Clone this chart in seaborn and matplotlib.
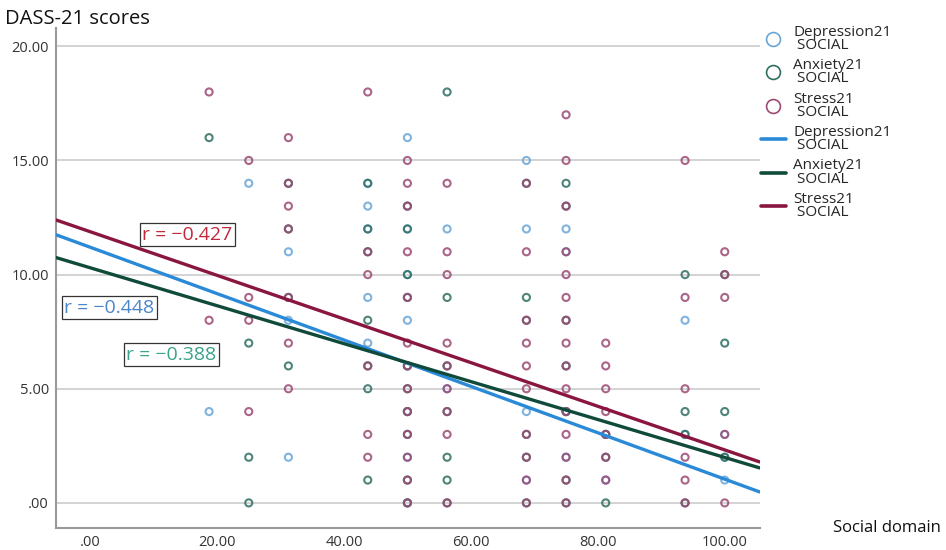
import numpy as np
import pandas as pd
import matplotlib
matplotlib.use("Agg")
import matplotlib.pyplot as plt
from matplotlib.lines import Line2D
import seaborn as sns

# scatter points (Social domain, DASS-21 score)
dep_x = [18.75, 25, 31.25, 31.25, 31.25, 43.75, 43.75, 43.75, 43.75, 43.75,
         50, 50, 50, 50, 50, 50, 50, 50, 56.25, 56.25,
         68.75, 68.75, 68.75, 68.75, 75, 75, 75, 75, 81.25, 81.25,
         93.75, 93.75, 100, 100, 100]
dep_y = [4, 14, 11, 8, 2, 14, 13, 9, 7, 12,
         16, 12, 10, 8, 6, 4, 2, 0, 12, 5,
         15, 12, 4, 1, 12, 11, 4, 2, 3, 1,
         8, 3, 3, 2, 1]

anx_x = [18.75, 25, 25, 25, 31.25, 31.25, 31.25, 31.25,
         43.75, 43.75, 43.75, 43.75, 43.75, 43.75, 43.75,
         50, 50, 50, 50, 50, 50, 50, 50, 50, 50,
         56.25, 56.25, 56.25, 56.25, 56.25, 56.25, 56.25,
         68.75, 68.75, 68.75, 68.75, 68.75, 68.75,
         75, 75, 75, 75, 75, 75, 75,
         81.25, 81.25, 81.25, 93.75, 93.75, 93.75, 93.75,
         100, 100, 100, 100]
anx_y = [16, 7, 2, 0, 14, 12, 9, 6,
         14, 12, 11, 8, 6, 5, 1,
         13, 12, 10, 9, 6, 5, 4, 3, 1, 0,
         18, 9, 6, 4, 2, 1, 0,
         14, 9, 8, 3, 2, 0,
         14, 13, 8, 6, 4, 1, 0,
         3, 2, 0, 10, 4, 3, 0,
         10, 7, 4, 2]

str_x = [18.75, 18.75, 25, 25, 25, 25,
         31.25, 31.25, 31.25, 31.25, 31.25, 31.25, 31.25,
         43.75, 43.75, 43.75, 43.75, 43.75, 43.75,
         50, 50, 50, 50, 50, 50, 50, 50, 50, 50, 50, 50, 50,
         56.25, 56.25, 56.25, 56.25, 56.25, 56.25, 56.25, 56.25, 56.25,
         68.75, 68.75, 68.75, 68.75, 68.75, 68.75, 68.75, 68.75, 68.75, 68.75,
         75, 75, 75, 75, 75, 75, 75, 75, 75, 75, 75, 75, 75, 75, 75,
         81.25, 81.25, 81.25, 81.25, 81.25, 81.25, 81.25,
         93.75, 93.75, 93.75, 93.75, 93.75, 93.75,
         100, 100, 100, 100, 100]
str_y = [18, 8, 15, 9, 8, 4,
         16, 14, 13, 12, 9, 7, 5,
         18, 11, 10, 6, 3, 2,
         15, 14, 13, 11, 9, 7, 6, 5, 4, 3, 2, 1, 0,
         14, 11, 10, 7, 6, 5, 4, 3, 0,
         14, 11, 8, 7, 6, 5, 3, 2, 1, 0,
         17, 15, 13, 11, 10, 9, 8, 7, 6, 5, 4, 3, 2, 1, 0,
         7, 6, 5, 4, 3, 2, 1,
         15, 9, 5, 2, 1, 0,
         11, 10, 9, 3, 0]

# fit lines (intercept, slope) and r values
fit_dep = (11.20, -0.1016)
fit_anx = (10.30, -0.0831)
fit_str = (11.88, -0.0956)
r_labels = ["r = \u22120.448", "r = \u22120.388", "r = \u22120.427"]

x_lo, x_hi = -5.4, 105.5
y_lo, y_hi = -1.1, 20.8

c_dep_pt, c_anx_pt, c_str_pt = "#6aa6d8", "#2f6f62", "#9c4a74"
c_dep_ln, c_anx_ln, c_str_ln = "#2a8ad8", "#0f4a3a", "#8a1540"
c_dep_tx, c_anx_tx, c_str_tx = "#4a86c8", "#3aa38a", "#c0283c"

sns.set_style("white")
plt.rcParams["font.family"] = ["Open Sans", "DejaVu Sans"]

fig = plt.figure(figsize=(9.46, 5.5), dpi=100)
ax = fig.add_axes([0.059, 0.04, 0.744, 0.909])

for xs, ys, c in [(dep_x, dep_y, c_dep_pt), (anx_x, anx_y, c_anx_pt), (str_x, str_y, c_str_pt)]:
    sns.scatterplot(x=xs, y=ys, ax=ax, marker="o", s=26, facecolor="none",
                    edgecolor=c, linewidth=1.5, alpha=0.85, zorder=3)

line_x = np.array([x_lo, x_hi])
for (b0, b1), c in [(fit_dep, c_dep_ln), (fit_anx, c_anx_ln), (fit_str, c_str_ln)]:
    sns.lineplot(x=line_x, y=b0 + b1 * line_x, ax=ax, color=c, linewidth=2.4, zorder=4)

box = dict(boxstyle="square,pad=0.12", fc="white", ec="#333333", lw=0.9)
tkw = dict(fontsize=14, va="center", ha="left", bbox=box, zorder=5)
ax.text(-4.1, 8.55, r_labels[0], color=c_dep_tx, **tkw)
ax.text(5.7, 6.5, r_labels[1], color=c_anx_tx, **tkw)
ax.text(8.2, 11.75, r_labels[2], color=c_str_tx, **tkw)

ax.set_xlim(x_lo, x_hi)
ax.set_ylim(y_lo, y_hi)
xt = [0, 20, 40, 60, 80, 100]
yt = [0, 5, 10, 15, 20]
fmt = lambda v: ".00" if v == 0 else f"{v:.2f}"
ax.set_xticks(xt)
ax.set_yticks(yt)
ax.set_xticklabels([fmt(v) for v in xt], fontsize=10.5, color="#333333")
ax.set_yticklabels([fmt(v) for v in yt], fontsize=10.5, color="#333333")
ax.yaxis.grid(True, color="#cccccc", linewidth=1.2)
ax.xaxis.grid(False)
ax.tick_params(length=0, pad=5)
for side in ["top", "right"]:
    ax.spines[side].set_visible(False)
for side in ["left", "bottom"]:
    ax.spines[side].set_color("#999999")
    ax.spines[side].set_linewidth(1.5)

fig.text(0.005, 0.965, "DASS-21 scores", fontsize=14.5, ha="left", va="center", color="#111111")
fig.text(0.995, 0.04, "Social domain", fontsize=12, ha="right", va="center", color="#111111")

handles = [
    Line2D([], [], marker="o", ls="none", mfc="none", mec=c_dep_pt, ms=10, mew=1.2),
    Line2D([], [], marker="o", ls="none", mfc="none", mec=c_anx_pt, ms=10, mew=1.2),
    Line2D([], [], marker="o", ls="none", mfc="none", mec=c_str_pt, ms=10, mew=1.2),
    Line2D([], [], color=c_dep_ln, lw=2.6),
    Line2D([], [], color=c_anx_ln, lw=2.6),
    Line2D([], [], color=c_str_ln, lw=2.6),
]
labels = ["Depression21\n SOCIAL", "Anxiety21\n SOCIAL", "Stress21\n SOCIAL"] * 2
leg = fig.legend(handles, labels, loc="upper left", bbox_to_anchor=(0.79, 0.98), frameon=False,
                 fontsize=11, handlelength=1.6, handletextpad=0.5, labelspacing=0.33)
for t in leg.get_texts():
    t.set_linespacing(0.85)

fig.savefig("out.png", dpi=100)
